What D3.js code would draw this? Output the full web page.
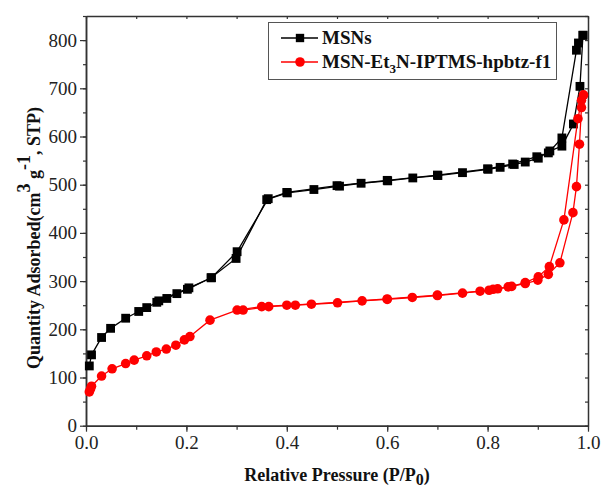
<!DOCTYPE html>
<html>
<head>
<meta charset="utf-8">
<script src="https://cdn.jsdelivr.net/npm/d3@7"></script>
<style>
  body { margin: 0; background: #fff; }
</style>
</head>
<body>
<div id="chart"></div>
<script>
// isotherm data: [P/P0, quantity]
var msnAds = [[0.0066,124],[0.011,147],[0.031,183],[0.049,202],[0.079,223],[0.105,237],[0.121,245],[0.141,256],[0.161,264],[0.181,274],[0.202,283],[0.249,307],[0.299,347],[0.360,469],[0.401,483],[0.454,490],[0.505,497],[0.548,503],[0.601,508],[0.651,514],[0.701,519],[0.750,525],[0.801,532],[0.825,536],[0.853,542],[0.875,547],[0.901,555],[0.924,570],[0.948,580],[0.971,626],[0.984,704],[0.990,810]];
var msnDes = [[0.990,810],[0.981,794],[0.977,779],[0.948,597],[0.921,566],[0.898,558],[0.850,543],[0.800,533],[0.700,520],[0.600,509],[0.500,498],[0.400,484],[0.363,471],[0.301,361],[0.250,307],[0.205,286],[0.145,259]];
var modAds = [[0.0066,70],[0.009,76],[0.011,82],[0.031,103],[0.052,118],[0.079,129],[0.096,136],[0.121,145],[0.140,153],[0.160,159],[0.179,167],[0.196,178],[0.207,185],[0.247,219],[0.301,240],[0.350,247],[0.400,250],[0.449,252],[0.501,255],[0.550,259],[0.600,262],[0.650,266],[0.700,270],[0.750,275],[0.803,281],[0.841,288],[0.875,295],[0.900,302],[0.921,314],[0.944,338],[0.970,442],[0.977,496],[0.983,584],[0.987,660],[0.991,686]];
var modDes = [[0.991,686],[0.987,675],[0.980,637],[0.952,427],[0.923,330],[0.901,309],[0.875,297],[0.848,289],[0.820,284],[0.811,283],[0.785,279],[0.700,271],[0.600,263],[0.417,250],[0.364,247],[0.313,240]];

var yTicks = [0, 100, 200, 300, 400, 500, 600, 700, 800];
var xTicks = [0, 0.2, 0.4, 0.6, 0.8, 1.0];
var seriesNames = ["MSNs", "MSN-Et3N-IPTMS-hpbtz-f1"];

var FONT = "'Liberation Serif', 'Times New Roman', Times, serif";
var width = 601, height = 491;
var svg = d3.select("#chart").append("svg").attr("width", width).attr("height", height)
  .attr("font-family", FONT);

var x = d3.scaleLinear().domain([0, 1]).range([86, 588]);
var y = d3.scaleLinear().domain([0, 850]).range([425.7, 16]);

var minorY = d3.range(0, 851, 50);
var minorX = d3.range(0, 1.001, 0.1);

// frame axes
function frame(g) {
  g.attr("font-family", FONT).attr("font-size", 19);
  g.select(".domain").attr("stroke", "#333").attr("stroke-width", 1.5);
  g.selectAll(".tick line").attr("stroke", "#333").attr("stroke-width", 1.2);
  g.selectAll("text").attr("fill", "#222");
}

svg.append("g").attr("transform", "translate(86,0)")
  .call(d3.axisLeft(y).tickValues(minorY).tickSize(3).tickFormat("").tickSizeOuter(0)).call(frame);
svg.append("g").attr("transform", "translate(86,0)")
  .call(d3.axisLeft(y).tickValues(yTicks).tickSize(6).tickPadding(3).tickSizeOuter(0)).call(frame);

svg.append("g").attr("transform", "translate(0,425.7)")
  .call(d3.axisBottom(x).tickValues(minorX).tickSize(4).tickFormat("").tickSizeOuter(0)).call(frame);
svg.append("g").attr("transform", "translate(0,425.7)")
  .call(d3.axisBottom(x).tickValues(xTicks).tickSize(6).tickPadding(4).tickFormat(d3.format(".1f")).tickSizeOuter(0)).call(frame);

svg.append("g").attr("transform", "translate(0,16)")
  .call(d3.axisBottom(x).tickValues(minorX).tickSize(3).tickFormat("").tickSizeOuter(0)).call(frame);
svg.append("g").attr("transform", "translate(588,0)")
  .call(d3.axisLeft(y).tickValues(minorY).tickSize(3).tickFormat("").tickSizeOuter(0)).call(frame);

// axis titles
var yl = svg.append("text")
  .attr("transform", "translate(40,238) rotate(-90)")
  .attr("text-anchor", "middle")
  .attr("font-size", 18).attr("font-weight", "bold").attr("fill", "#111");
yl.append("tspan").text("Quantity Adsorbed(cm");
yl.append("tspan").attr("dy", -10).text("3");
yl.append("tspan").attr("dy", 10).text(" g");
yl.append("tspan").attr("dy", -10).text("-1");
yl.append("tspan").attr("dy", 10).text(", STP)");

var xl = svg.append("text")
  .attr("x", 337).attr("y", 481)
  .attr("text-anchor", "middle")
  .attr("font-size", 18).attr("font-weight", "bold").attr("fill", "#111");
xl.append("tspan").text("Relative Pressure (P/P");
xl.append("tspan").attr("dy", 4).attr("font-size", 16).text("0");
xl.append("tspan").attr("dy", -4).text(")");

// series
var line = d3.line().x(d => x(d[0])).y(d => y(d[1]));

function drawSeries(data, color, shape) {
  svg.append("path").datum(data)
    .attr("fill", "none").attr("stroke", color).attr("stroke-width", 1.3)
    .attr("d", line);
  var sym = d3.symbol().type(shape).size(shape === d3.symbolSquare ? 78 : 72);
  svg.append("g").selectAll("path").data(data).join("path")
    .attr("transform", d => `translate(${x(d[0])},${y(d[1])})`)
    .attr("d", sym)
    .attr("fill", color);
}

drawSeries(msnAds, "#000", d3.symbolSquare);
drawSeries(msnDes, "#000", d3.symbolSquare);
drawSeries(modAds, "#ff0000", d3.symbolCircle);
drawSeries(modDes, "#ff0000", d3.symbolCircle);

// legend
var lg = svg.append("g");
lg.append("rect").attr("x", 268.5).attr("y", 22.5).attr("width", 288).attr("height", 57)
  .attr("fill", "#fff").attr("stroke", "#555").attr("stroke-width", 1);

[["#000", d3.symbolSquare, 38], ["#ff0000", d3.symbolCircle, 62]].forEach(function(s, i) {
  lg.append("line").attr("x1", 281).attr("x2", 318).attr("y1", s[2]).attr("y2", s[2])
    .attr("stroke", s[0]).attr("stroke-width", 1.3);
  lg.append("path").attr("transform", `translate(300,${s[2]})`)
    .attr("d", d3.symbol().type(s[1]).size(s[1] === d3.symbolSquare ? 70 : 72)).attr("fill", s[0]);
});

lg.append("text").attr("x", 322).attr("y", 44)
  .attr("font-size", 19).attr("font-weight", "bold").attr("fill", "#111")
  .text(seriesNames[0]);
var t2 = lg.append("text").attr("x", 322).attr("y", 68)
  .attr("font-size", 19).attr("font-weight", "bold").attr("fill", "#111");
t2.append("tspan").text("MSN-Et");
t2.append("tspan").attr("dy", 5).attr("font-size", 13).text("3");
t2.append("tspan").attr("dy", -5).text("N-IPTMS-hpbtz-f1");
</script>
</body>
</html>
